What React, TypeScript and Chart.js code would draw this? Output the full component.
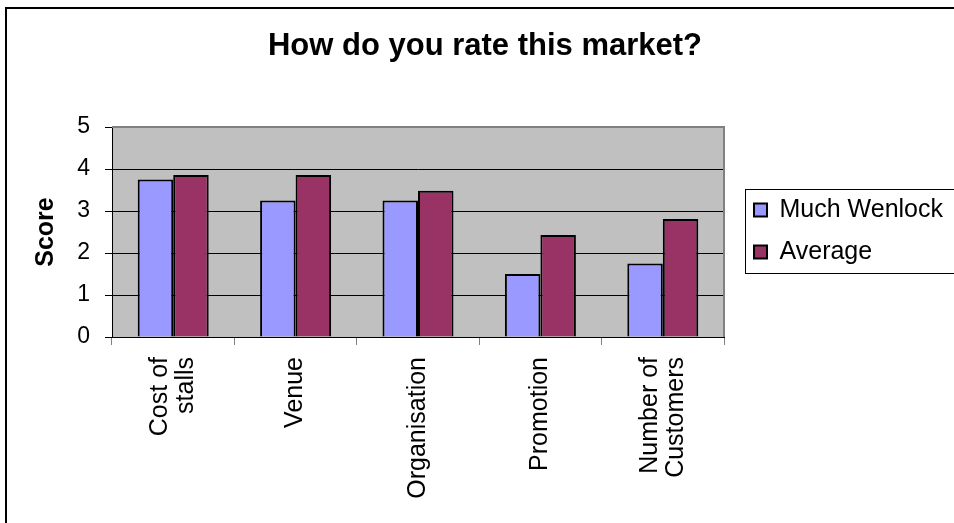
import React, { useEffect, useRef } from 'react';
import { Chart, registerables } from 'chart.js';

Chart.register(...registerables);

const categories: (string | string[])[] = [['Cost of', 'stalls'], 'Venue', 'Organisation', 'Promotion', ['Number of', 'Customers']];
const muchWenlock = [3.75, 3.25, 3.25, 1.5, 1.75];
const average = [3.86, 3.86, 3.48, 2.43, 2.81];
const yTicks = [0, 1, 2, 3, 4, 5];
const seriesNames = ['Much Wenlock', 'Average'];
const titleText = 'How do you rate this market?';
const yTitle = 'Score';

const FONT = "'Liberation Sans', Arial, Helvetica, sans-serif";
const X_FONT_SIZE = 25;
const X_LINE_HEIGHT = 1.05;

const framePlugin = {
  id: 'frame',
  beforeDraw(chart: any) {
    const { ctx, chartArea: a } = chart;
    ctx.save();
    ctx.fillStyle = '#ffffff';
    ctx.fillRect(0, 0, chart.width, chart.height);
    ctx.strokeStyle = '#000000';
    ctx.lineWidth = 2;
    ctx.strokeRect(6, 8, chart.width + 50, chart.height + 50);
    ctx.fillStyle = '#C0C0C0';
    ctx.fillRect(a.left, a.top, a.right - a.left, a.bottom - a.top);
    ctx.restore();
    const t = chart.titleBlock;
    if (t) {
      const w = t.right - t.left;
      t.left = chart.width / 2 + 8 - w / 2;
      t.right = t.left + w;
    }
    const lg = chart.legend;
    if (lg) {
      lg.left = a.right + 13;
      lg.right = chart.width + 20;
      lg.top = a.top - 1;
      lg.bottom = a.bottom - 1;
    }
    // centre multi-line category labels on their category
    const xs = chart.scales.x;
    if (xs && xs.getLabelItems) {
      const items = xs.getLabelItems(a);
      const lh = X_FONT_SIZE * X_LINE_HEIGHT;
      items.forEach((it: any) => {
        const n = Array.isArray(it.label) ? it.label.length : 1;
        it.textOffset = lh / 2 - ((n - 1) * lh) / 2;
      });
    }
  },
  beforeDatasetsDraw(chart: any) {
    const { ctx, chartArea: a } = chart;
    ctx.save();
    ctx.strokeStyle = '#808080';
    ctx.lineWidth = 2;
    ctx.beginPath();
    ctx.moveTo(a.left, a.top);
    ctx.lineTo(a.right, a.top);
    ctx.lineTo(a.right, a.bottom);
    ctx.stroke();
    ctx.restore();
  },
  afterDraw(chart: any) {
    const lg = chart.legend;
    if (!lg) return;
    const { ctx } = chart;
    const pad = lg.options.labels.padding;
    const mid = (lg.top + lg.bottom) / 2;
    const h = lg.columnSizes && lg.columnSizes[0] ? lg.columnSizes[0].height : 84;
    ctx.save();
    ctx.strokeStyle = '#000000';
    ctx.lineWidth = 1;
    ctx.strokeRect(Math.round(lg.left + pad - 9) + 0.5, Math.round(mid - h / 2) + 0.5, 400, Math.round(h));
    ctx.restore();
  },
};

export default function App() {
  const ref = useRef<HTMLCanvasElement | null>(null);
  useEffect(() => {
    if (!ref.current) return;
    Chart.defaults.font.family = FONT;
    Chart.defaults.color = '#000000';
    const chart = new Chart(ref.current, {
      type: 'bar',
      data: {
        labels: categories,
        datasets: [
          {
            label: seriesNames[0],
            data: muchWenlock,
            backgroundColor: '#9999FF',
            borderColor: '#000000',
            borderWidth: 2,
            categoryPercentage: 0.58,
            barPercentage: 1.0,
          },
          {
            label: seriesNames[1],
            data: average,
            backgroundColor: '#993366',
            borderColor: '#000000',
            borderWidth: 2,
            categoryPercentage: 0.58,
            barPercentage: 1.0,
          },
        ],
      },
      options: {
        responsive: false,
        animation: false,
        events: [],
        devicePixelRatio: 1,
        layout: { padding: { left: 16, right: 50, top: 0, bottom: 0 } },
        plugins: {
          title: {
            display: true,
            text: titleText,
            color: '#000000',
            font: { family: FONT, size: 31, weight: 'bold' },
            padding: { top: 27.4, bottom: 62.4 },
          },
          legend: {
            display: true,
            position: 'right',
            maxWidth: 180,
            labels: {
              color: '#000000',
              font: { family: FONT, size: 25 },
              boxWidth: 13,
              boxHeight: 13,
              padding: 17,
            },
          },
          tooltip: { enabled: false },
        },
        scales: {
          x: {
            offset: true,
            grid: {
              display: true,
              drawOnChartArea: false,
              drawTicks: true,
              tickLength: 8,
              color: '#808080',
              offset: true,
            },
            border: { display: true, color: '#000000', width: 1 },
            ticks: {
              color: '#000000',
              font: { family: FONT, size: X_FONT_SIZE, lineHeight: X_LINE_HEIGHT },
              minRotation: 90,
              maxRotation: 90,
              autoSkip: false,
              padding: 12,
            },
            afterFit: (s: any) => {
              s.height = 186;
            },
          },
          y: {
            min: 0,
            max: 5,
            afterBuildTicks: (s: any) => {
              s.ticks = yTicks.map((v) => ({ value: v }));
            },
            ticks: {
              color: '#000000',
              font: { family: FONT, size: 23 },
              padding: 15,
            },
            grid: { color: '#000000', lineWidth: 1, tickLength: 7 },
            border: { display: true, color: '#000000', width: 1 },
            title: {
              display: true,
              text: yTitle,
              color: '#000000',
              font: { family: FONT, size: 25, weight: 'bold' },
              padding: { top: 15, bottom: 0 },
            },
            afterFit: (s: any) => {
              s.width = 96;
            },
          },
        },
      },
      plugins: [framePlugin],
    } as any);
    return () => chart.destroy();
  }, []);
  return (
    <div style={{ position: 'fixed', left: 0, top: 0, width: 954, height: 523, background: '#fff' }}>
      <canvas ref={ref} width={954} height={523} style={{ width: 954, height: 523, display: 'block' }} />
    </div>
  );
}
